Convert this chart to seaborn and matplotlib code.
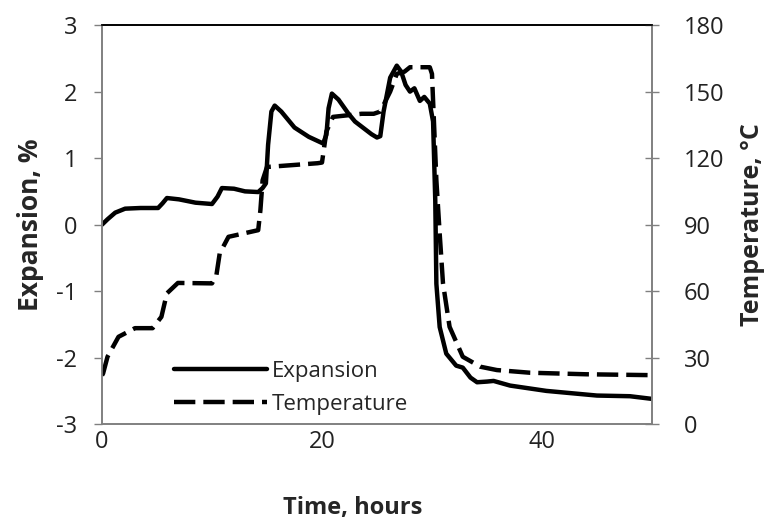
import numpy as np
import pandas as pd
import matplotlib
matplotlib.use("Agg")
import matplotlib.pyplot as plt
import seaborn as sns

# Expansion (%), left axis
exp_time = [0.0, 0.5, 1.2, 2.1, 3.5, 5.1, 5.5, 5.9, 7.0, 8.5, 10.0, 10.5, 10.9, 12.0, 13.0,
            14.2, 14.6, 14.9, 15.1, 15.4, 15.7, 16.3, 17.5, 18.8, 20.1, 20.4, 20.6, 20.9,
            21.5, 22.4, 23.0, 24.5, 25.0, 25.3, 25.6, 26.2, 26.8, 27.2, 27.6, 28.0, 28.4,
            28.9, 29.3, 29.8, 30.1, 30.3, 30.4, 30.7, 31.3, 32.2, 32.8, 33.5, 34.1, 35.0,
            35.6, 37.1, 40.4, 45.0, 48.0, 50.0]
expansion = [0.0, 0.08, 0.18, 0.24, 0.25, 0.25, 0.32, 0.40, 0.38, 0.33, 0.31, 0.42, 0.55,
             0.54, 0.50, 0.49, 0.55, 0.62, 1.2, 1.7, 1.79, 1.70, 1.46, 1.32, 1.22, 1.35,
             1.75, 1.97, 1.88, 1.67, 1.55, 1.36, 1.31, 1.33, 1.70, 2.21, 2.39, 2.30, 2.10,
             2.00, 2.05, 1.86, 1.92, 1.82, 1.55, 0.36, -0.89, -1.54, -1.94, -2.12, -2.15,
             -2.30, -2.37, -2.36, -2.35, -2.42, -2.50, -2.57, -2.58, -2.62]

# Temperature (degC), right axis
temp_time = [0.0, 0.1, 0.5, 1.5, 3.0, 4.6, 5.4, 5.9, 6.9, 10.0, 10.4, 10.7, 11.5, 14.2,
             14.4, 14.6, 15.0, 19.6, 20.0, 20.4, 21.0, 23.6, 24.7, 25.3, 26.2, 26.8, 27.5,
             28.0, 28.9, 29.8, 30.0, 30.4, 30.7, 31.0, 31.6, 32.8, 34.4, 35.9, 38.9, 44.0,
             50.0]
temperature = [22.0, 22.9, 30.4, 39.4, 43.3, 43.3, 48.4, 59.0, 63.7, 63.5, 67.2, 77.0,
               84.5, 87.5, 96.5, 110.0, 116.0, 117.7, 118.0, 132.0, 138.6, 140.0, 140.0,
               141.0, 150.0, 158.0, 159.0, 161.0, 161.0, 161.0, 158.0, 110.0, 86.0, 63.6,
               43.9, 30.4, 25.9, 24.4, 23.2, 22.5, 22.1]

x_ticks = [0, 20, 40]
left_ticks = [-3, -2, -1, 0, 1, 2, 3]
right_ticks = [0, 30, 60, 90, 120, 150, 180]

sns.set_style("white")
plt.rcParams['font.family'] = ['Open Sans', 'DejaVu Sans']
plt.rcParams['axes.unicode_minus'] = False

exp_df = pd.DataFrame({"time": exp_time, "value": expansion})
temp_df = pd.DataFrame({"time": temp_time, "value": temperature})

fig = plt.figure(figsize=(7.67, 5.23), dpi=100)
ax = fig.add_axes([0.133, 0.189, 0.717, 0.763])
ax2 = ax.twinx()

sns.lineplot(data=exp_df, x="time", y="value", ax=ax, color="black", linewidth=3.2,
             label="Expansion", legend=False)
sns.lineplot(data=temp_df, x="time", y="value", ax=ax2, color="black", linewidth=3.2,
             linestyle=(0, (4.8, 1.8)), label="Temperature", legend=False)

ax.set_xlim(0, 50)
ax.set_ylim(-3, 3)
ax2.set_ylim(0, 180)
ax.set_xticks(x_ticks)
ax.set_yticks(left_ticks)
ax2.set_yticks(right_ticks)

ax.set_xlabel("Time, hours", fontsize=17, fontweight="bold")
ax.set_ylabel("Expansion, %", fontsize=19, fontweight="bold")
ax2.set_ylabel("Temperature, \u00b0C", fontsize=18, fontweight="bold")
ax.xaxis.set_label_coords(0.455, -0.18)
ax.yaxis.set_label_coords(-0.105, 0.5)
ax2.yaxis.set_label_coords(1.16, 0.5)

gray = "#808080"
for a in (ax, ax2):
    for side in ("left", "right", "bottom"):
        a.spines[side].set_color(gray)
        a.spines[side].set_linewidth(1.2)
    a.spines["top"].set_color("black")
    a.spines["top"].set_linewidth(1.2)

ax.tick_params(axis="both", labelsize=17, colors="#222222", length=6, width=1,
               direction="out")
ax.tick_params(axis="both", color=gray)
ax.tick_params(axis="y", pad=12)
ax.tick_params(axis="x", length=5, pad=-1)
ax2.tick_params(axis="y", labelsize=17, labelcolor="#222222", color=gray, length=10,
                width=1, direction="inout", pad=18)

h1, l1 = ax.get_legend_handles_labels()
h2, l2 = ax2.get_legend_handles_labels()
ax.legend(h1 + h2, l1 + l2, loc="lower left", bbox_to_anchor=(0.115, 0.0),
          frameon=False, fontsize=16, handlelength=4.2, handletextpad=0.2,
          labelspacing=0.55, borderaxespad=0)

fig.savefig("out.png", dpi=100)
